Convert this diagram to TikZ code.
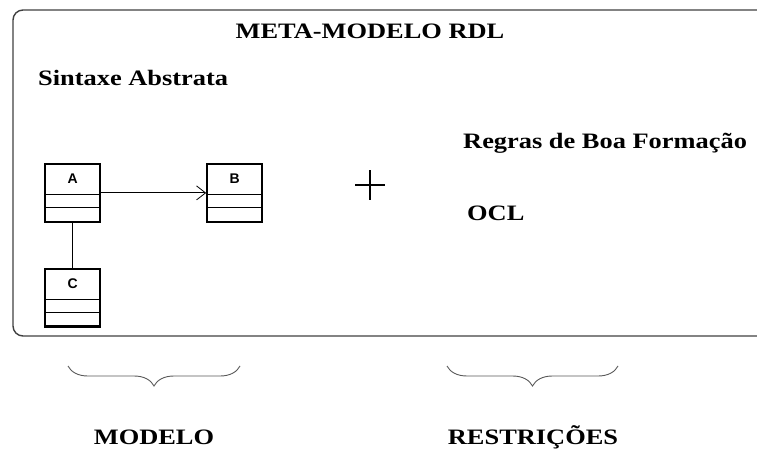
\documentclass[tikz,border=0pt]{standalone}
\usepackage{fontspec}
\setmainfont{Liberation Serif}
\setsansfont{Liberation Sans}
\newfontfamily\widefont[FakeStretch=1.2]{Liberation Serif}
\usetikzlibrary{positioning}
\usetikzlibrary{shapes.multipart}
\usetikzlibrary{arrows.meta}
\usetikzlibrary{decorations.pathreplacing}

\newcommand{\clsparts}[1]{\rule[-10pt]{0pt}{28pt}#1\nodepart{two}\rule[-4pt]{0pt}{11pt}\nodepart{three}\rule[-4pt]{0pt}{12pt}}

\begin{document}
\begin{tikzpicture}[x=1pt, y=-1pt,
cls/.style={rectangle split, rectangle split parts=3, rectangle split draw splits=false, draw=black, line width=2.2pt, minimum width=55pt, inner xsep=0pt, inner ysep=0pt, font=\sffamily\bfseries\fontsize{14}{14}\selectfont},
lbl/.style={font=\widefont\bfseries\fontsize{22}{26}\selectfont, inner sep=0pt},
brc/.style={decorate, decoration={brace, mirror, amplitude=20pt}, gray!70!black, line width=0.9pt},
]
\clip (0,0) rectangle (757,454);

\draw[rounded corners=10pt, line width=1.4pt, black!75] (13,10) rectangle (790,336);

\node[lbl] (title) at (370,31) {META-MODELO RDL};
\node[lbl, anchor=west] (sint) at (38,78) {Sintaxe Abstrata};

\node[cls, anchor=north west] (A) at (44,163) {\clsparts{A}};
\node[cls] (B) [right=105pt of A] {\clsparts{B}};
\node[cls] (C) [below=45pt of A] {\clsparts{C}};
\foreach \c in {A,B,C} {
  \draw[line width=0.8pt] (\c.one split west) -- (\c.one split east);
  \draw[line width=0.8pt] (\c.two split west) -- (\c.two split east);
}

\draw[line width=0.8pt, -{Straight Barb[length=9pt, width=14pt]}] (A.east) -- (A.east -| B.west);
\draw[line width=0.8pt] (A.south) -- (C.north);

% sinal de soma
\coordinate (plus) at (370,185);
\draw[line width=1.8pt] ([xshift=-15pt]plus) -- ([xshift=15pt]plus);
\draw[line width=1.8pt] ([yshift=-15pt]plus) -- ([yshift=15pt]plus);

\node[lbl, anchor=west] (regras) at (463,143) {Regras de Boa Formação};
\node[lbl, anchor=west] (ocl) at (467,213) {OCL};

% chaves
\draw[brc] (68,366) -- (240,366) coordinate[midway] (b1);
\draw[brc] (447,366) -- (618,366) coordinate[midway] (b2);

\node[lbl] (modelo) at (154,437) {MODELO};
\node[lbl] (restr) at (533,437) {RESTRIÇÕES};
\end{tikzpicture}
\end{document}
